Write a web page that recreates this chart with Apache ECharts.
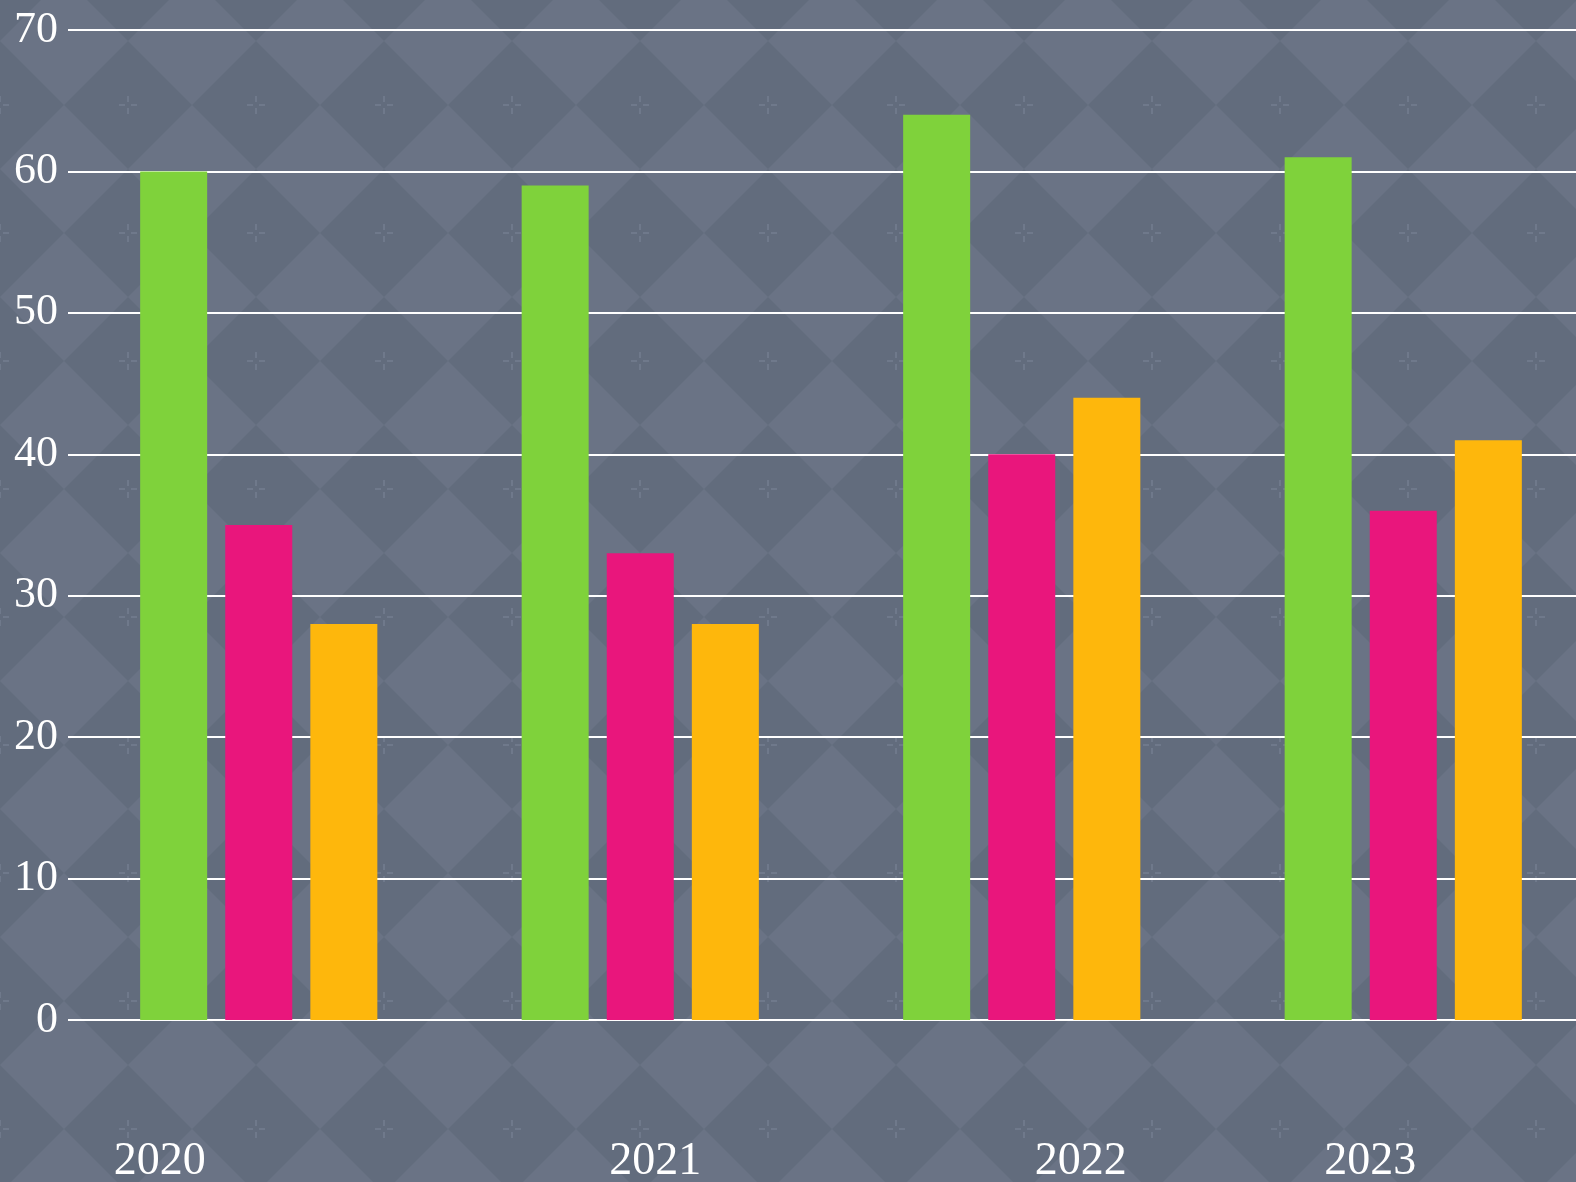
<!DOCTYPE html>
<html>
<head>
<meta charset="utf-8">
<script src="https://cdn.jsdelivr.net/npm/echarts@6/dist/echarts.min.js"></script>
<style>
  html, body { margin: 0; padding: 0; }
  body {
    width: 1576px;
    height: 1182px;
    overflow: hidden;
    background-color: #6a7385;
    background-image: url("data:image/svg+xml,%3Csvg xmlns='http://www.w3.org/2000/svg' width='128' height='128'%3E%3Crect width='128' height='128' fill='%236a7385'/%3E%3Cpath d='M0 64 L64 0 L128 64 L64 128 Z' fill='%23626c7d'/%3E%3Cpath d='M55 64 H61 M67 64 H73 M64 55 V61 M64 67 V73' stroke='%236f798b' stroke-width='2'/%3E%3C/svg%3E");
    background-position: 64px 41px;
  }
  #chart { width: 1576px; height: 1182px; }
</style>
</head>
<body>
<div id="chart"></div>
<script>
// data
const years = ['2020', '2021', '2022', '2023'];
const greenVals = [60, 59, 64, 61];
const pinkVals = [35, 33, 40, 36];
const orangeVals = [28, 28, 44, 41];
const yTicks = [0, 10, 20, 30, 40, 50, 60, 70];

// horizontal nudge of each year label (px), labels are not centred in the source
const labelShift = [-99, 15, 59, -33];

const chart = echarts.init(document.getElementById('chart'));

const serif = '"Liberation Serif", "Times New Roman", Times, serif';

const barBase = {
  type: 'bar',
  barWidth: 67,
  barGap: '27%'
};

chart.setOption({
  backgroundColor: 'transparent',
  animation: false,
  grid: { left: 68, right: -18, top: 30, bottom: 162, outerBoundsMode: 'none' },
  xAxis: {
    type: 'category',
    data: years.map((y, i) => {
      const s = labelShift[i];
      return {
        value: y,
        textStyle: { padding: s >= 0 ? [0, 0, 0, 2 * s] : [0, -2 * s, 0, 0] }
      };
    }),
    axisLine: { show: false },
    axisTick: { show: false },
    axisLabel: {
      color: '#ffffff',
      fontFamily: serif,
      fontSize: 46,
      margin: 119
    }
  },
  yAxis: {
    type: 'value',
    min: yTicks[0],
    max: yTicks[yTicks.length - 1],
    interval: 10,
    axisLine: { show: false },
    axisTick: { show: false },
    axisLabel: {
      color: '#ffffff',
      fontFamily: serif,
      fontSize: 44,
      margin: 10
    },
    splitLine: { lineStyle: { color: '#ffffff', width: 2 } }
  },
  series: [
    Object.assign({}, barBase, { name: 'A', data: greenVals, itemStyle: { color: '#7fd23b' } }),
    Object.assign({}, barBase, { name: 'B', data: pinkVals, itemStyle: { color: '#e9167c' } }),
    Object.assign({}, barBase, { name: 'C', data: orangeVals, itemStyle: { color: '#feb70c' } })
  ]
});
</script>
</body>
</html>
